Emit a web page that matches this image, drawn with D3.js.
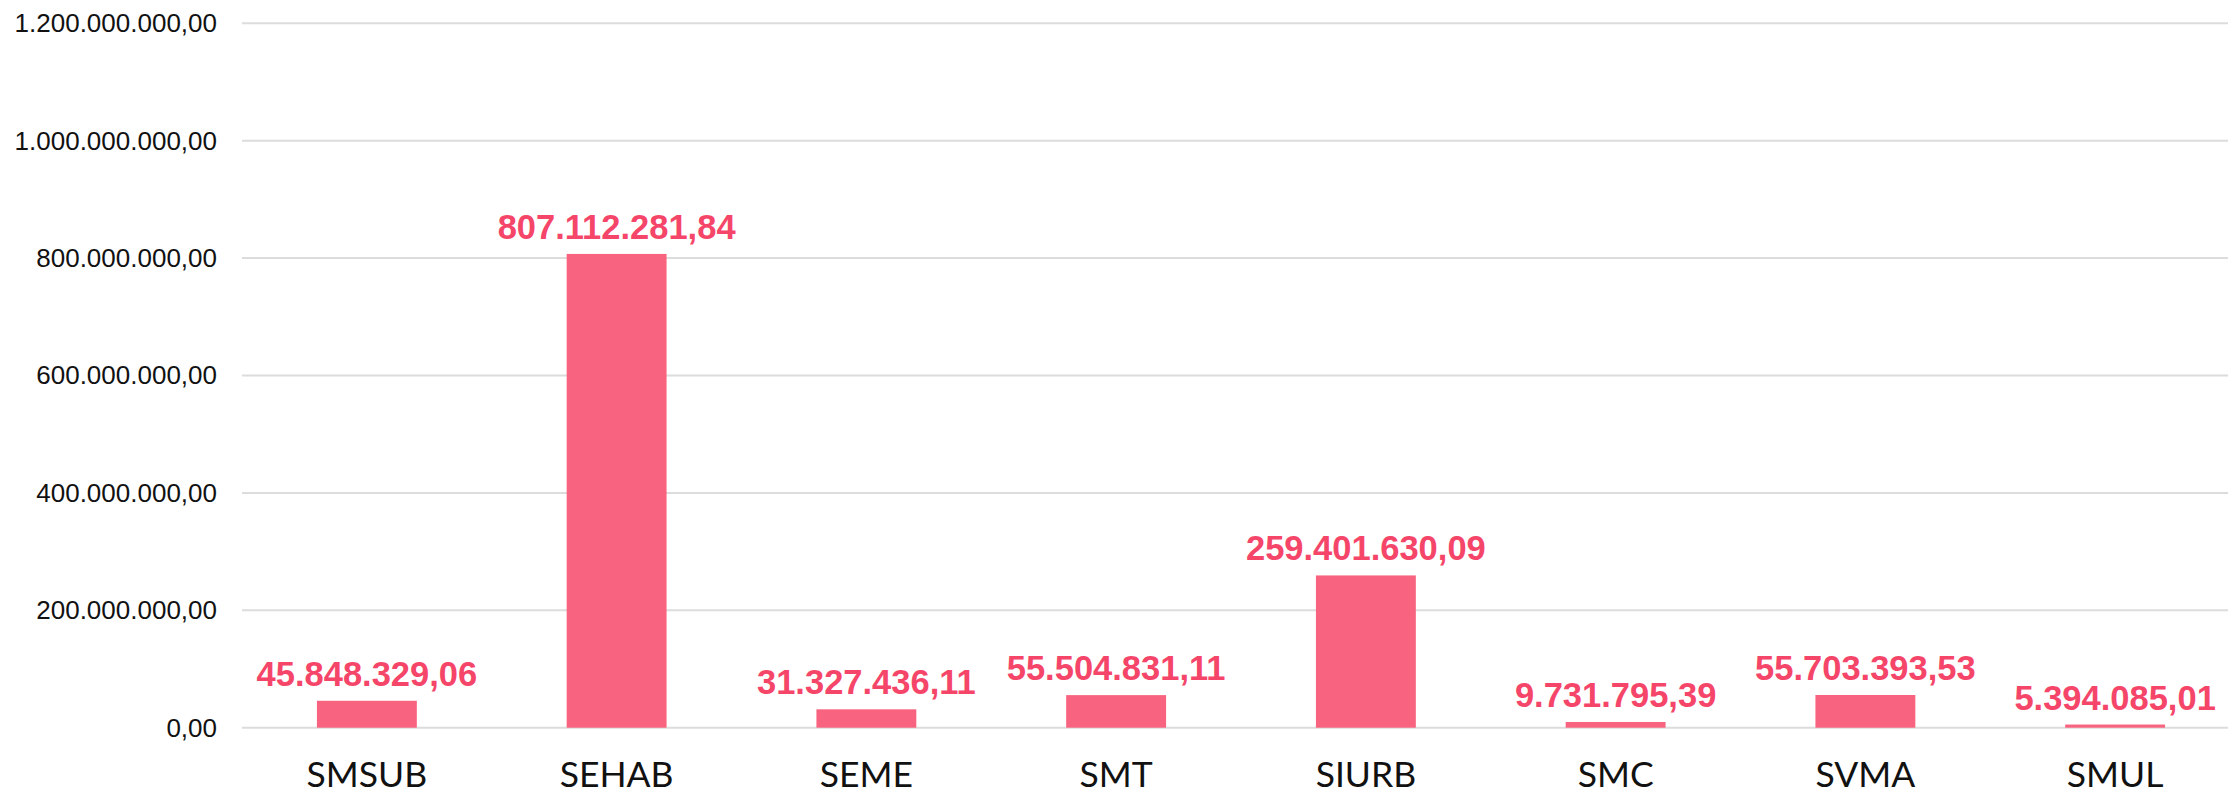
<!DOCTYPE html>
<html>
<head>
<meta charset="utf-8">
<script src="https://cdn.jsdelivr.net/npm/d3@7"></script>
<style>
  html, body { margin: 0; padding: 0; background: #fff; }
  svg { display: block; }
</style>
</head>
<body>
<svg id="chart" width="2228" height="795"></svg>
<script>
const categories = ["SMSUB", "SEHAB", "SEME", "SMT", "SIURB", "SMC", "SVMA", "SMUL"];
const values = [45848329.06, 807112281.84, 31327436.11, 55504831.11, 259401630.09, 9731795.39, 55703393.53, 5394085.01];
const yTicks = [0, 200000000, 400000000, 600000000, 800000000, 1000000000, 1200000000];

const W = 2228, H = 795;
const margin = { left: 242, right: -12, top: 23.3, bottom: 67.3 };
const svg = d3.select("#chart");

const locale = d3.formatLocale({ decimal: ",", thousands: ".", grouping: [3], currency: ["R$", ""] });
const fmt = locale.format(",.2f");

const x = d3.scaleBand().domain(categories).range([margin.left, W - margin.right]).paddingInner(0.6).paddingOuter(0.3);
const y = d3.scaleLinear().domain([0, 1200000000]).range([H - margin.bottom, margin.top]);

// grid
svg.append("g").selectAll("line").data(yTicks).join("line")
  .attr("x1", margin.left).attr("x2", W)
  .attr("y1", d => y(d)).attr("y2", d => y(d))
  .attr("stroke", "#dcdcdc").attr("stroke-width", 2);

// y axis labels
const yAxis = d3.axisLeft(y).tickValues(yTicks).tickFormat(fmt).tickSize(0).tickPadding(25);
const gy = svg.append("g").attr("transform", `translate(${margin.left},0)`).call(yAxis);
gy.select(".domain").remove();
gy.selectAll("text").attr("font-family", "'Liberation Sans', Arial, sans-serif").attr("font-size", 26).attr("fill", "#111");

// bars
svg.append("g").selectAll("rect").data(values).join("rect")
  .attr("x", (d, i) => x(categories[i]))
  .attr("width", x.bandwidth())
  .attr("y", d => y(d))
  .attr("height", d => y(0) - y(d))
  .attr("fill", "#f8647f");

// value labels
svg.append("g").selectAll("text").data(values).join("text")
  .attr("x", (d, i) => x(categories[i]) + x.bandwidth() / 2)
  .attr("y", d => y(d) - 15)
  .attr("text-anchor", "middle")
  .attr("font-family", "'Liberation Sans', Arial, sans-serif")
  .attr("font-weight", "bold")
  .attr("font-size", 34.5)
  .attr("fill", "#f5466a")
  .text(d => fmt(d));

// x axis labels
const xAxis = d3.axisBottom(x).tickSize(0).tickPadding(34);
const gx = svg.append("g").attr("transform", `translate(0,${y(0)})`).call(xAxis);
gx.select(".domain").remove();
gx.selectAll("text").attr("font-family", "Lato, sans-serif").attr("font-size", 35.5).attr("fill", "#111");
</script>
</body>
</html>
